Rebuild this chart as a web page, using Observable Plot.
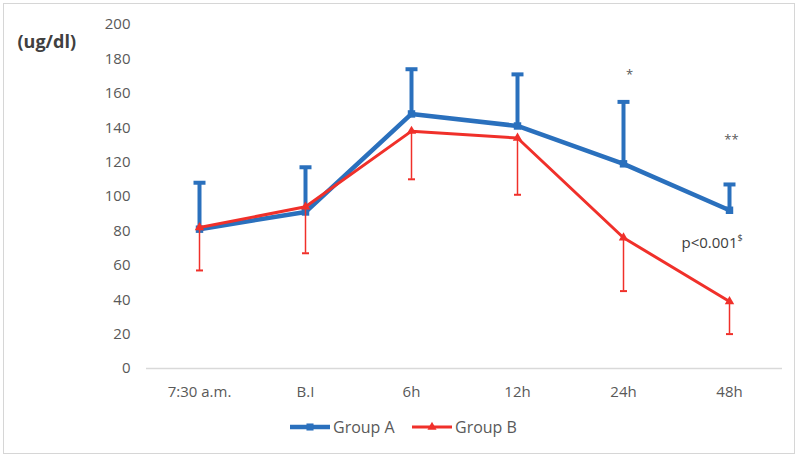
<!DOCTYPE html>
<html>
<head>
<meta charset="utf-8">
<script src="https://cdn.jsdelivr.net/npm/d3@7"></script>
<script src="https://cdn.jsdelivr.net/npm/@observablehq/plot@0.6"></script>
<style>
  html, body { margin: 0; padding: 0; background: #fff; }
  #wrap { position: relative; width: 800px; height: 458px; overflow: hidden; font-family: "Open Sans", "Noto Sans", sans-serif; }
  #frame { position: absolute; left: 3px; top: 3px; width: 792px; height: 451px; border: 1.5px solid #d6d6d6; box-sizing: border-box; pointer-events: none; }
  #legend { position: relative; width: 800px; height: 48px; }
  .item { position: absolute; top: 6px; display: flex; align-items: center; font-size: 16px; color: #595959; }
  .item svg { display: block; margin-right: 3px; }
</style>
</head>
<body>
<div id="wrap">
  <div id="chart"></div>
  <div id="legend"></div>
  <div id="frame"></div>
</div>
<script>
const times = ["7:30 a.m.", "B.I", "6h", "12h", "24h", "48h"];
const groupAMean = [81, 91, 148, 141, 119, 92];
const groupAUpper = [108, 117, 174, 171, 155, 107];
const groupBMean = [82, 94, 138, 134, 76, 39];
const groupBLower = [57, 67, 110, 101, 45, 20];
const yTicks = [0, 20, 40, 60, 80, 100, 120, 140, 160, 180, 200];
const seriesNames = ["Group A", "Group B"];

const blue = "#2a70bd";
const red = "#f0302a";

const rowsA = times.map((t, i) => ({time: t, mean: groupAMean[i], bar: groupAUpper[i]}));
const rowsB = times.map((t, i) => ({time: t, mean: groupBMean[i], bar: groupBLower[i]}));

const cap = {
  draw(ctx, size) {
    const r = Math.sqrt(size / Math.PI);
    ctx.moveTo(-r, 0);
    ctx.lineTo(r, 0);
  }
};

const chart = Plot.plot({
  width: 800,
  height: 410,
  marginLeft: 146,
  marginRight: 18,
  marginTop: 24,
  marginBottom: 42,
  style: {fontFamily: "'Open Sans', 'Noto Sans', sans-serif", fontSize: "15px", color: "#595959", background: "transparent"},
  x: {type: "point", domain: times, padding: 0.5, tickSize: 0, tickPadding: 18, label: null},
  y: {domain: [0, 200], ticks: yTicks, tickSize: 0, tickPadding: 16, label: null},
  marks: [
    Plot.ruleY([0], {stroke: "#d9d9d9", strokeWidth: 1.5}),
    // Group A
    Plot.ruleX(rowsA, {x: "time", y1: "mean", y2: "bar", stroke: blue, strokeWidth: 4}),
    Plot.dot(rowsA, {x: "time", y: "bar", symbol: cap, r: 6, stroke: blue, strokeWidth: 4, fill: "none"}),
    Plot.line(rowsA, {x: "time", y: "mean", stroke: blue, strokeWidth: 4.5}),
    Plot.dot(rowsA, {x: "time", y: "mean", symbol: "square", r: 4.2, fill: blue, stroke: "none"}),
    // Group B
    Plot.ruleX(rowsB, {x: "time", y1: "bar", y2: "mean", stroke: red, strokeWidth: 1.5}),
    Plot.dot(rowsB, {x: "time", y: "bar", symbol: cap, r: 3.5, stroke: red, strokeWidth: 2, fill: "none"}),
    Plot.line(rowsB, {x: "time", y: "mean", stroke: red, strokeWidth: 3}),
    Plot.dot(rowsB, {x: "time", y: "mean", symbol: "triangle", r: 3.5, fill: red, stroke: "none"}),
    // annotations
    Plot.text(["*"], {x: () => "24h", y: () => 171, dx: 6, fill: "#595959", fontSize: 13}),
    Plot.text(["**"], {x: () => "48h", y: () => 133, dx: 2, fill: "#595959", fontSize: 13}),
    Plot.text(["p<0.001"], {x: () => "48h", y: () => 73, dx: 8, textAnchor: "end", fill: "#404040", fontSize: 15}),
    Plot.text(["$"], {x: () => "48h", y: () => 73, dx: 8, dy: -5, textAnchor: "start", fill: "#404040", fontSize: 9}),
    Plot.text(["(ug/dl)"], {frameAnchor: "top-left", dx: -129, dy: 11, textAnchor: "start", fill: "#404040", fontSize: 18, fontWeight: "bold"})
  ]
});
document.getElementById("chart").appendChild(chart);

// legend
const legend = document.getElementById("legend");
const legendItems = [
  {name: seriesNames[0], color: blue, width: 4.5, symbol: "square", left: 290},
  {name: seriesNames[1], color: red, width: 3, symbol: "triangle", left: 412}
];
for (const it of legendItems) {
  const div = document.createElement("div");
  div.className = "item";
  div.style.left = it.left + "px";
  const svg = d3.create("svg").attr("width", 40).attr("height", 20);
  svg.append("line").attr("x1", 0).attr("x2", 40).attr("y1", 10).attr("y2", 10)
    .attr("stroke", it.color).attr("stroke-width", it.width);
  const sym = it.symbol === "square" ? d3.symbolSquare : d3.symbolTriangle;
  svg.append("path").attr("transform", "translate(20,10)")
    .attr("d", d3.symbol(sym, it.symbol === "square" ? 50 : 36)()).attr("fill", it.color);
  div.appendChild(svg.node());
  const span = document.createElement("span");
  span.textContent = it.name;
  div.appendChild(span);
  legend.appendChild(div);
}
</script>
</body>
</html>
